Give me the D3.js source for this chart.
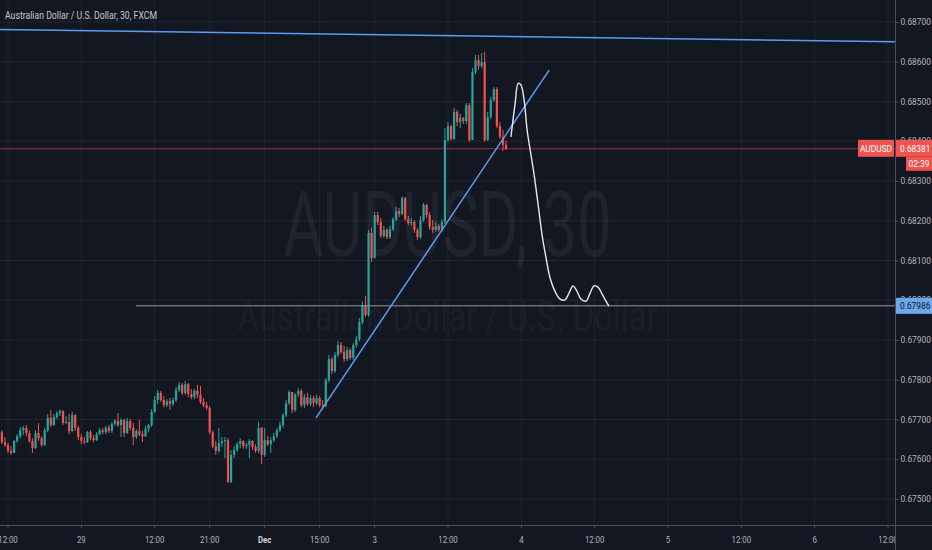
<!DOCTYPE html>
<html><head><meta charset="utf-8">
<script src="https://cdn.jsdelivr.net/npm/d3@7"></script>
<style>html,body{margin:0;padding:0;background:#131722;overflow:hidden}</style>
</head><body>
<svg id="c" width="932" height="550"></svg>
<script>
// ---------- DATA ----------
const title = "Australian Dollar / U.S. Dollar, 30, FXCM";
const symbol = "AUDUSD";
const watermarkMain = "AUDUSD, 30";
const watermarkSub = "Australian Dollar / U.S. Dollar";
const countdown = "02:39";

const firstBarIndex = -2;   // 30-minute bar index of first candle
const firstOpen = 0.67668;
const close = [
 0.67643,0.67636,0.67621,0.67616,0.67646,0.67658,0.67673,0.67679,0.67666,0.67646,
 0.67628,0.67666,0.67653,0.67636,0.67673,0.67704,0.67686,0.67706,0.67716,0.67721,
 0.67691,0.67694,0.67671,0.67711,0.67679,0.67656,0.67646,0.67643,0.67668,0.67653,
 0.67648,0.67663,0.67673,0.67668,0.67679,0.67671,0.67689,0.67696,0.67686,0.67699,
 0.67666,0.67696,0.67679,0.67656,0.67671,0.67663,0.67658,0.67676,0.67686,0.67719,
 0.67749,0.67767,0.67749,0.67736,0.67746,0.67739,0.67749,0.67774,0.67787,0.67767,
 0.67789,0.67764,0.67756,0.67772,0.67762,0.67744,0.67736,0.67729,0.67668,0.67633,
 0.67621,0.67641,0.67646,0.67648,0.67543,0.67611,0.67623,0.67638,0.67646,0.67633,
 0.67636,0.67646,0.67631,0.67621,0.67679,0.67611,0.67648,0.67638,0.67648,0.67658,
 0.67673,0.67686,0.67711,0.67741,0.67769,0.67724,0.67762,0.67772,0.67736,0.67756,
 0.67739,0.67754,0.67741,0.67754,0.67736,0.67734,0.67799,0.67852,0.67822,0.67862,
 0.67887,0.67870,0.67852,0.67875,0.67855,0.67887,0.67902,0.67945,0.67988,0.67963,
 0.68169,0.68106,0.68214,0.68197,0.68162,0.68177,0.68159,0.68179,0.68204,0.68224,
 0.68217,0.68257,0.68204,0.68194,0.68197,0.68177,0.68159,0.68202,0.68240,0.68214,
 0.68184,0.68177,0.68187,0.68177,0.68197,0.68403,0.68438,0.68406,0.68474,0.68448,
 0.68458,0.68451,0.68491,0.68403,0.68574,0.68604,0.68589,0.68599,0.68403,0.68461,
 0.68504,0.68531,0.68438,0.68411,0.68391,0.68381];
const high = [
 0.67673,0.67656,0.67641,0.67633,0.67648,0.67663,0.67681,0.67684,0.67686,0.67673,
 0.67653,0.67673,0.67691,0.67658,0.67679,0.67714,0.67724,0.67714,0.67721,0.67726,
 0.67724,0.67709,0.67714,0.67719,0.67714,0.67684,0.67663,0.67656,0.67671,0.67673,
 0.67661,0.67668,0.67679,0.67679,0.67684,0.67686,0.67694,0.67701,0.67716,0.67704,
 0.67701,0.67704,0.67701,0.67691,0.67676,0.67699,0.67671,0.67684,0.67689,0.67726,
 0.67759,0.67774,0.67772,0.67759,0.67751,0.67754,0.67756,0.67782,0.67794,0.67792,
 0.67797,0.67792,0.67777,0.67777,0.67787,0.67784,0.67754,0.67744,0.67734,0.67673,
 0.67646,0.67679,0.67656,0.67656,0.67653,0.67623,0.67633,0.67643,0.67653,0.67648,
 0.67641,0.67651,0.67648,0.67638,0.67694,0.67681,0.67679,0.67658,0.67656,0.67666,
 0.67679,0.67694,0.67716,0.67749,0.67774,0.67769,0.67767,0.67779,0.67777,0.67764,
 0.67767,0.67762,0.67759,0.67762,0.67759,0.67749,0.67804,0.67862,0.67857,0.67870,
 0.67897,0.67895,0.67885,0.67882,0.67880,0.67892,0.67910,0.67955,0.67996,0.68011,
 0.68177,0.68182,0.68222,0.68222,0.68207,0.68187,0.68182,0.68187,0.68209,0.68235,
 0.68232,0.68262,0.68260,0.68212,0.68207,0.68202,0.68182,0.68212,0.68245,0.68242,
 0.68222,0.68202,0.68197,0.68192,0.68204,0.68433,0.68448,0.68441,0.68484,0.68479,
 0.68469,0.68461,0.68496,0.68496,0.68584,0.68617,0.68617,0.68622,0.68625,0.68474,
 0.68511,0.68536,0.68536,0.68448,0.68428,0.68401];
const low = [
 0.67638,0.67631,0.67616,0.67611,0.67616,0.67641,0.67653,0.67661,0.67658,0.67641,
 0.67616,0.67626,0.67646,0.67631,0.67633,0.67668,0.67681,0.67684,0.67701,0.67709,
 0.67686,0.67689,0.67663,0.67668,0.67671,0.67648,0.67638,0.67638,0.67641,0.67648,
 0.67643,0.67646,0.67661,0.67663,0.67663,0.67666,0.67666,0.67684,0.67681,0.67656,
 0.67656,0.67663,0.67673,0.67636,0.67651,0.67658,0.67643,0.67656,0.67668,0.67681,
 0.67716,0.67739,0.67744,0.67731,0.67731,0.67724,0.67734,0.67744,0.67769,0.67762,
 0.67762,0.67756,0.67751,0.67751,0.67754,0.67739,0.67731,0.67724,0.67663,0.67628,
 0.67611,0.67616,0.67631,0.67603,0.67540,0.67540,0.67603,0.67618,0.67628,0.67626,
 0.67626,0.67603,0.67623,0.67616,0.67616,0.67588,0.67606,0.67633,0.67616,0.67643,
 0.67653,0.67668,0.67679,0.67706,0.67736,0.67716,0.67719,0.67756,0.67731,0.67729,
 0.67734,0.67734,0.67731,0.67736,0.67731,0.67724,0.67731,0.67794,0.67814,0.67817,
 0.67857,0.67865,0.67845,0.67847,0.67850,0.67850,0.67880,0.67897,0.67940,0.67958,
 0.67958,0.68096,0.68106,0.68189,0.68157,0.68157,0.68154,0.68154,0.68174,0.68199,
 0.68209,0.68214,0.68199,0.68189,0.68187,0.68169,0.68152,0.68154,0.68197,0.68207,
 0.68177,0.68169,0.68172,0.68172,0.68172,0.68192,0.68398,0.68401,0.68403,0.68438,
 0.68433,0.68443,0.68443,0.68398,0.68403,0.68569,0.68579,0.68584,0.68398,0.68401,
 0.68456,0.68499,0.68433,0.68406,0.68375,0.68378];

const priceTicks = [0.675,0.676,0.677,0.678,0.679,0.680,0.681,0.682,0.683,0.684,0.685,0.686,0.687];
const timeTickIndex  = [0,24,48,66,84,102,120,144,168,192,216,240,264,288];
const timeTickLabels = ["12:00","29","12:00","21:00","Dec","15:00","3","12:00","4","12:00","5","12:00","6","12:00"];

const lastPrice = 0.68381;
const targetPrice = 0.67986;
const targetStartIndex = 41.9;
const resistanceLine = [[-3, 0.68681], [290.5, 0.68650]];
const supportLine = [[100.8, 0.67704], [177.1, 0.68579]];
const sketchIndex = [164.6,165.9,167.0,167.9,168.9,169.9,170.9,172.2,173.5,174.8,176.1,177.4,179.1,180.7,182.3,183.6,184.9,186.2,187.5,189.2,190.5,191.8,193.1,194.4,195.7,196.7];
const sketchPrice = [0.68411,0.68491,0.68546,0.68541,0.68504,0.68428,0.68378,0.68315,0.68240,0.68164,0.68106,0.68056,0.68021,0.68003,0.68001,0.68018,0.68036,0.68023,0.68003,0.67998,0.68018,0.68036,0.68033,0.68016,0.67998,0.67985];

// ---------- STYLE / LAYOUT ----------
const W = 932, H = 550, plotR = 895, plotB = 525;
const BG = "#131722", GRID = "#20242f", AXIS = "#4c505b", TXT = "#b2b5be";
const UP = "#26a69a", DOWN = "#ef5350", BLUE = "#5b9cf6";
const FONT = "Roboto, 'Noto Sans', sans-serif";

const svg = d3.select("#c");
const x = d3.scaleLinear().domain([0, 288]).range([8, 888]);
const y = d3.scaleLinear().domain([0.675, 0.687]).range([499, 22]);

svg.append("rect").attr("width", W).attr("height", H).attr("fill", BG);
const defs = svg.append("defs");
defs.append("clipPath").attr("id", "clipPlot").append("rect").attr("width", plotR).attr("height", plotB);
defs.append("clipPath").attr("id", "clipTime").append("rect").attr("y", plotB).attr("width", plotR).attr("height", H - plotB);

function condense(sel, f) {
  sel.each(function () {
    const n = this.getComputedTextLength();
    d3.select(this).attr("textLength", n * f).attr("lengthAdjust", "spacingAndGlyphs");
  });
}

// grid
const grid = svg.append("g").attr("clip-path", "url(#clipPlot)");
grid.selectAll("line.v").data(timeTickIndex).join("line").attr("class", "v")
  .attr("x1", d => x(d)).attr("x2", d => x(d)).attr("y1", 0).attr("y2", plotB)
  .attr("stroke", GRID).attr("stroke-width", 1);
grid.selectAll("line.h").data(priceTicks).join("line").attr("class", "h")
  .attr("x1", 0).attr("x2", plotR).attr("y1", d => y(d)).attr("y2", d => y(d))
  .attr("stroke", GRID).attr("stroke-width", 1);

// watermark
const wm = svg.append("g").attr("fill", "rgba(255,255,255,0.055)").attr("font-family", FONT).attr("text-anchor", "middle");
wm.append("text").attr("x", plotR / 2).attr("y", 256).attr("font-size", 90).attr("textLength", 328)
  .attr("lengthAdjust", "spacingAndGlyphs").text(watermarkMain);
wm.append("text").attr("x", plotR / 2).attr("y", 331).attr("font-size", 42).attr("textLength", 420)
  .attr("lengthAdjust", "spacingAndGlyphs").text(watermarkSub);

// title
svg.append("text").attr("x", 5).attr("y", 19).attr("font-family", FONT).attr("font-size", 10.5)
  .attr("fill", "#c3c6ce").attr("textLength", 152).attr("lengthAdjust", "spacingAndGlyphs").text(title);

// candles
const bars = close.map((c, k) => ({ i: firstBarIndex + k, o: k ? close[k - 1] : firstOpen, h: high[k], l: low[k], c }));
const cg = svg.append("g").attr("clip-path", "url(#clipPlot)");
cg.selectAll("line.wick").data(bars).join("line").attr("class", "wick")
  .attr("x1", d => x(d.i)).attr("x2", d => x(d.i))
  .attr("y1", d => y(d.h)).attr("y2", d => y(d.l))
  .attr("stroke", d => d.c >= d.o ? UP : DOWN).attr("stroke-width", 1);
cg.selectAll("rect.body").data(bars).join("rect").attr("class", "body")
  .attr("x", d => x(d.i) - 1.1).attr("width", 2.2)
  .attr("y", d => y(Math.max(d.o, d.c)))
  .attr("height", d => Math.max(1, Math.abs(y(d.o) - y(d.c))))
  .attr("fill", d => d.c >= d.o ? UP : DOWN);

// drawings
const dg = svg.append("g").attr("clip-path", "url(#clipPlot)");
const line = d3.line().x(d => x(d[0])).y(d => y(d[1]));
dg.append("line").attr("x1", 0).attr("x2", plotR).attr("y1", y(lastPrice)).attr("y2", y(lastPrice))
  .attr("stroke", DOWN).attr("stroke-opacity", 0.55).attr("stroke-width", 1);
dg.append("line").attr("x1", x(targetStartIndex)).attr("x2", plotR).attr("y1", y(targetPrice)).attr("y2", y(targetPrice))
  .attr("stroke", "#9598a1").attr("stroke-width", 1);
dg.append("path").attr("d", line(resistanceLine)).attr("fill", "none").attr("stroke", BLUE).attr("stroke-width", 1.5);
dg.append("path").attr("d", line(supportLine)).attr("fill", "none").attr("stroke", BLUE).attr("stroke-width", 1.5);
const sketch = sketchIndex.map((d, k) => [d, sketchPrice[k]]);
dg.append("path").attr("d", d3.line().x(d => x(d[0])).y(d => y(d[1])).curve(d3.curveCatmullRom)(sketch))
  .attr("fill", "none").attr("stroke", "#e6e8ee").attr("stroke-width", 1.4);

// axes lines
svg.append("line").attr("x1", plotR + 0.5).attr("x2", plotR + 0.5).attr("y1", 0).attr("y2", H).attr("stroke", AXIS);
svg.append("line").attr("x1", 0).attr("x2", W).attr("y1", plotB + 0.5).attr("y2", plotB + 0.5).attr("stroke", AXIS);

// price axis
const pa = svg.append("g").attr("transform", `translate(${plotR + 0.5},0)`)
  .call(d3.axisRight(y).tickValues(priceTicks).tickFormat(d3.format(".5f")).tickSize(3).tickPadding(2));
pa.select(".domain").remove();
pa.selectAll(".tick line").attr("stroke", AXIS);
pa.selectAll(".tick text").attr("fill", TXT).attr("font-family", FONT).attr("font-size", 8.4);

// time axis
const ta = svg.append("g").attr("clip-path", "url(#clipTime)");
ta.selectAll("line").data(timeTickIndex).join("line")
  .attr("x1", d => x(d)).attr("x2", d => x(d)).attr("y1", plotB).attr("y2", plotB + 3).attr("stroke", AXIS);
const tl = ta.selectAll("text").data(timeTickIndex).join("text")
  .attr("x", d => x(d)).attr("y", 543).attr("text-anchor", "middle")
  .attr("font-family", FONT).attr("font-size", 9.8)
  .attr("font-weight", (d, k) => timeTickLabels[k] === "Dec" ? "bold" : "normal")
  .attr("fill", (d, k) => timeTickLabels[k] === "Dec" ? "#d1d4dc" : TXT)
  .text((d, k) => timeTickLabels[k]);
condense(tl, 0.8);

// price labels
const lbl = svg.append("g").attr("font-family", FONT).attr("font-size", 8.4);
const yl = y(lastPrice);
lbl.append("rect").attr("x", 858).attr("y", yl - 9).attr("width", 36).attr("height", 17).attr("fill", DOWN);
lbl.append("rect").attr("x", 896).attr("y", yl - 9).attr("width", 36).attr("height", 17).attr("fill", DOWN);
lbl.append("text").attr("x", 876).attr("y", yl + 3).attr("text-anchor", "middle").attr("fill", "#fff")
  .text(symbol);
lbl.append("text").attr("x", 900).attr("y", yl + 3).attr("fill", "#fff")
  .text(d3.format(".5f")(lastPrice));
lbl.append("rect").attr("x", 906).attr("y", yl + 8).attr("width", 26).attr("height", 14).attr("fill", DOWN);
lbl.append("text").attr("x", 919).attr("y", yl + 18.5).attr("text-anchor", "middle").attr("fill", "#fff")
  .text(countdown);
const yt = y(targetPrice);
lbl.append("rect").attr("x", 896).attr("y", yt - 8).attr("width", 36).attr("height", 16).attr("fill", "#6ba8ec");
lbl.append("text").attr("x", 900).attr("y", yt + 3.5).attr("fill", "#131722")
  .text(d3.format(".5f")(targetPrice));
</script>
</body></html>
